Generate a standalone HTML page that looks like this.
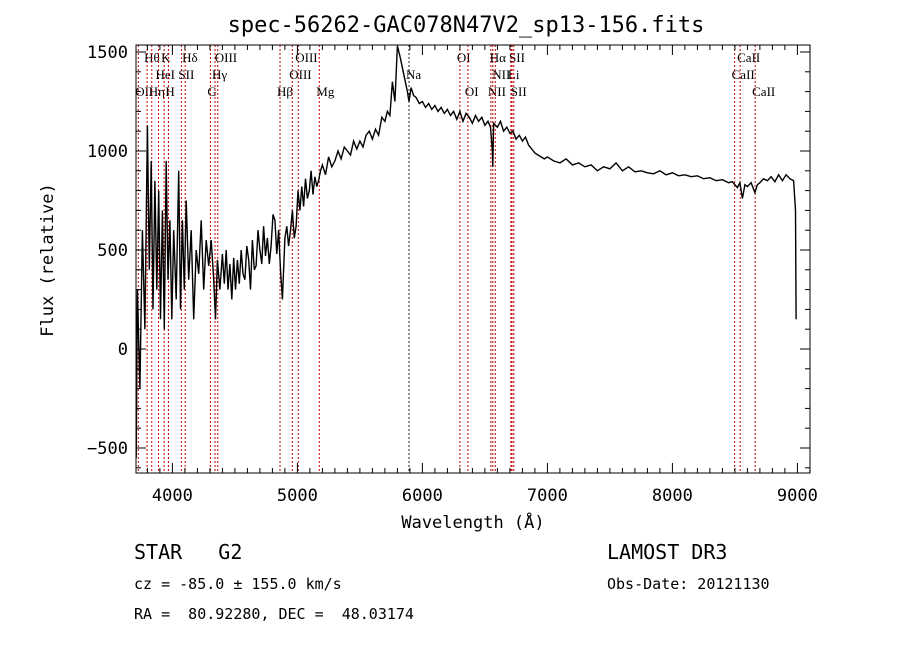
<!DOCTYPE html>
<html><head><meta charset="utf-8"><style>
html,body{margin:0;padding:0;background:#fff;}
svg text{font-family:"DejaVu Sans Mono","Liberation Mono",monospace;fill:#000;white-space:pre;}
.lab{font-family:"Liberation Serif",serif;font-size:13px;}
</style></head><body>
<svg id="chart" width="900" height="649" viewBox="0 0 900 649" xmlns="http://www.w3.org/2000/svg" xml:space="preserve">
<rect width="900" height="649" fill="#fff"/>
<text x="466" y="32" font-size="22" text-anchor="middle">spec-56262-GAC078N47V2_sp13-156.fits</text>
<g id="lines"></g>
<g id="spec"></g>
<g id="axes"></g>
<text x="473" y="528" font-size="17" text-anchor="middle">Wavelength (Å)</text>
<text x="53" y="260" font-size="17" text-anchor="middle" transform="rotate(-90 53 260)">Flux (relative)</text>
<text x="134" y="559" font-size="20">STAR   G2</text>
<text x="134" y="589" font-size="15">cz = -85.0 ± 155.0 km/s</text>
<text x="134" y="619" font-size="15">RA =  80.92280, DEC =  48.03174</text>
<text x="607" y="559" font-size="20">LAMOST DR3</text>
<text x="607" y="589" font-size="15">Obs-Date: 20121130</text>
</svg>
<script>
const wave=[3710,3720,3740,3760,3780,3800,3815,3830,3845,3860,3875,3890,3905,3920,3935,3950,3965,3980,3995,4010,4030,4050,4065,4080,4095,4110,4130,4150,4170,4190,4210,4230,4250,4270,4290,4310,4330,4345,4360,4380,4400,4415,4430,4445,4460,4475,4490,4505,4520,4535,4550,4565,4580,4595,4610,4625,4640,4655,4670,4685,4700,4715,4730,4745,4760,4775,4790,4805,4820,4835,4850,4865,4880,4900,4915,4930,4945,4960,4975,4990,5005,5020,5035,5050,5065,5080,5095,5110,5125,5140,5155,5170,5185,5200,5225,5250,5275,5300,5325,5350,5375,5400,5425,5450,5475,5500,5525,5550,5575,5600,5625,5650,5675,5700,5720,5740,5760,5780,5800,5820,5840,5860,5880,5893,5910,5930,5950,5975,6000,6025,6050,6075,6100,6125,6150,6175,6200,6225,6250,6275,6300,6325,6350,6375,6400,6425,6450,6475,6500,6525,6545,6560,6563,6570,6600,6625,6650,6675,6700,6725,6750,6775,6800,6825,6850,6875,6900,6925,6950,6975,7000,7050,7100,7150,7200,7250,7300,7350,7400,7450,7500,7550,7600,7650,7700,7750,7800,7850,7900,7950,8000,8050,8100,8150,8200,8250,8300,8350,8400,8450,8480,8500,8520,8540,8560,8580,8600,8630,8660,8680,8700,8730,8760,8790,8820,8850,8880,8910,8940,8970,8985,8990,8995];
const flux=[-550,300,-200,600,100,1130,400,950,200,850,300,800,150,700,100,950,350,650,150,600,250,900,200,650,300,750,350,600,150,500,380,650,300,550,420,550,350,150,450,300,480,330,500,300,430,250,460,300,450,330,500,380,350,520,450,300,550,400,420,600,500,430,620,470,560,430,520,680,650,480,600,400,250,560,620,520,600,700,560,620,800,700,820,720,860,760,800,900,780,870,820,850,900,930,880,970,920,950,1000,960,1020,1000,980,1050,1010,1050,1020,1080,1100,1060,1110,1080,1170,1150,1200,1180,1350,1250,1530,1480,1420,1360,1300,1250,1320,1280,1270,1240,1250,1220,1240,1210,1230,1200,1220,1190,1210,1180,1200,1160,1200,1150,1190,1170,1140,1180,1150,1170,1130,1150,1120,1000,920,1140,1120,1150,1100,1120,1090,1100,1060,1080,1050,1070,1030,1010,990,980,970,960,970,950,940,960,930,940,920,930,900,920,910,940,900,920,895,900,890,885,900,880,890,875,880,870,875,860,865,850,855,840,845,830,815,840,760,830,820,840,790,830,840,860,850,870,845,880,850,880,860,850,700,150];
const lineWave=[3727,3798,3835,3889,3934,3968,4072,4102,4304,4341,4363,4861,4959,5007,5175,5893,6300,6364,6548,6563,6583,6708,6717,6731,8498,8542,8662];
const lineLabel=["OII","Hθ","Hη","HeI","K","H","SII","Hδ","G","Hγ","OIII","Hβ","OIII","OIII","Mg","Na","OI","OI","NII","Hα","NII","Li","SII","SII","CaII","CaII","CaII"];
const lineRow=[2,0,2,1,0,2,1,0,2,1,0,2,1,0,2,1,0,2,2,0,1,1,0,2,1,0,2];
const xTicks=[4000,5000,6000,7000,8000,9000];
const yTicks=[-500,0,500,1000,1500];
const L=136,R=810,T=45,B=473;
const x=w=>172.4+(w-4000)*0.125;
const y=f=>349-f*0.198;
const NS="http://www.w3.org/2000/svg";
function mk(t,a,p){const e=document.createElementNS(NS,t);for(const k in a)e.setAttribute(k,a[k]);p.appendChild(e);return e;}
const gl=document.getElementById('lines'),gs=document.getElementById('spec'),ga=document.getElementById('axes');
lineWave.forEach((w,i)=>{
  const black=(lineLabel[i]==="Na");
  const l=mk('line',{x1:x(w),x2:x(w),y1:T,y2:B,stroke:black?'#222':'#c00000','stroke-width':1,'stroke-dasharray':'2,2'},gl);
  
  
  const t=mk('text',{x:x(w)-3,y:62+lineRow[i]*17,class:'lab'},gl);
  t.textContent=lineLabel[i];
  
  
});
const cp=mk('clipPath',{id:'clip'},gs);mk('rect',{x:L,y:T,width:R-L,height:B-T},cp);
const pth=mk('polyline',{points:wave.map((w,i)=>x(w).toFixed(1)+','+y(flux[i]).toFixed(1)).join(' '),fill:'none',stroke:'#000','stroke-width':1.4,'clip-path':'url(#clip)'},gs);


const fr=mk('rect',{x:L,y:T,width:R-L,height:B-T,fill:'none',stroke:'#000','stroke-width':1},ga);


for(let w=3800;w<=9100;w+=100){
  const len=(w%1000===0)?10:5;
  mk('line',{x1:x(w),x2:x(w),y1:B,y2:B-len,stroke:'#000'},ga);
  mk('line',{x1:x(w),x2:x(w),y1:T,y2:T+len,stroke:'#000'},ga);
}
for(let f=-600;f<=1500;f+=100){
  const len=(f%500===0)?10:5;
  mk('line',{x1:L,x2:L+len,y1:y(f),y2:y(f),stroke:'#000'},ga);
  mk('line',{x1:R,x2:R-len,y1:y(f),y2:y(f),stroke:'#000'},ga);
}
xTicks.forEach(w=>{const t=mk('text',{x:x(w),y:501,'font-size':17,'text-anchor':'middle'},ga);t.textContent=w;
  
  });
yTicks.forEach(f=>{const t=mk('text',{x:128,y:y(f)+6,'font-size':17,'text-anchor':'end'},ga);t.textContent=(f<0?'−':'')+Math.abs(f);
  
  });
</script>
</body></html>
